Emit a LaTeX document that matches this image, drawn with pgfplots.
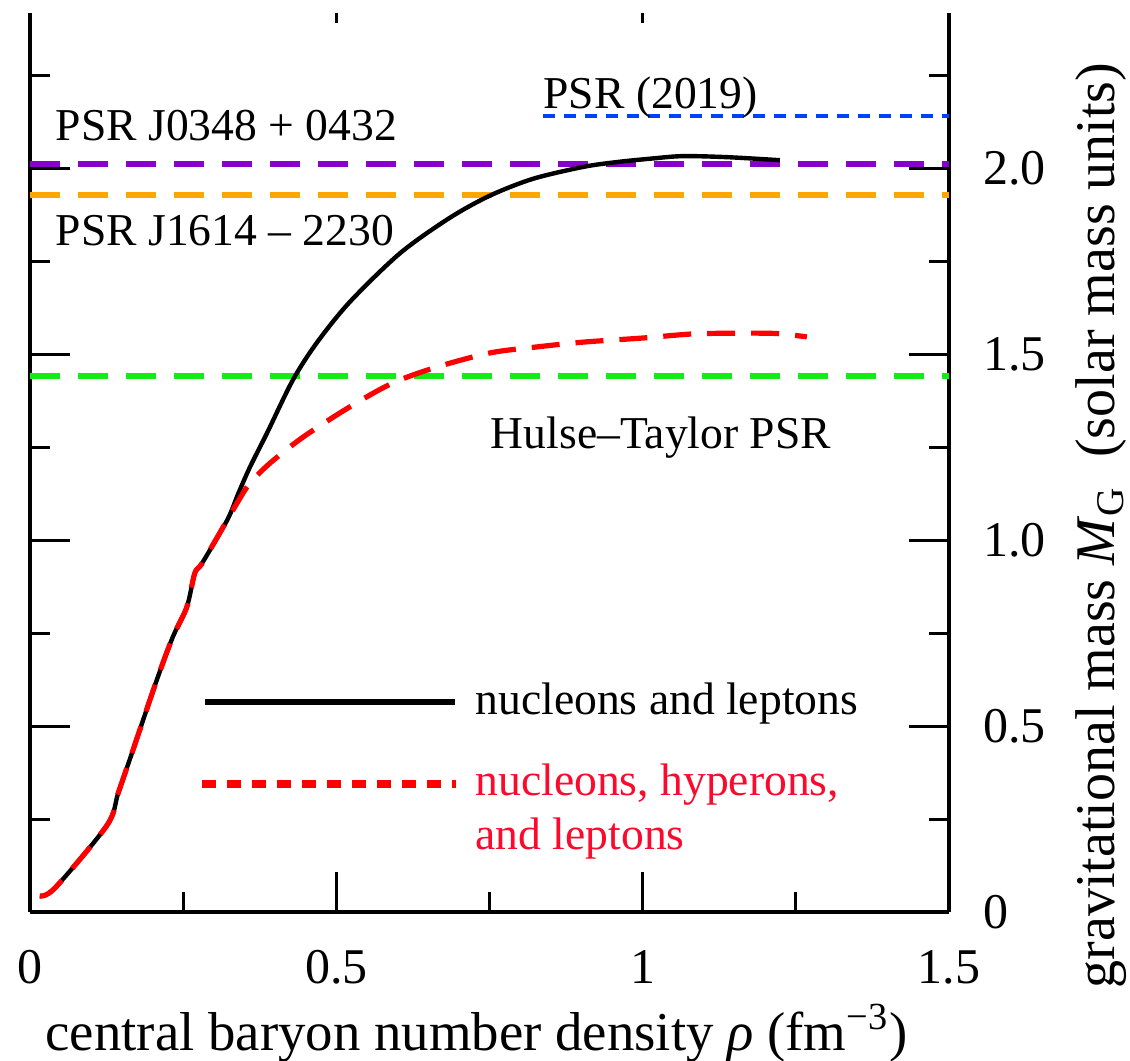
\documentclass[border=0pt]{standalone}
\usepackage{pgfplots}
\pgfplotsset{compat=1.18}
\usepackage{fontspec}
\setmainfont{Liberation Serif}

\definecolor{psrpurple}{RGB}{136,0,204}
\definecolor{psrorange}{RGB}{255,165,0}
\definecolor{psrgreen}{RGB}{20,235,20}
\definecolor{psrblue}{RGB}{0,64,255}
\definecolor{curvered}{RGB}{255,0,0}
\definecolor{labelred}{RGB}{250,10,45}

\newcommand{\annfont}{\fontsize{11.4}{13.7}\selectfont}
\newcommand{\axfont}{\fontsize{12.5}{15}\selectfont}
\newcommand{\xlabfont}{\fontsize{13.7}{16}\selectfont}
\newcommand{\ylabfont}{\fontsize{14}{17}\selectfont}

% mass--central density relation, nucleons and leptons only
\pgfplotstableread{
rho M
0.016 0.043
0.041 0.065
0.126 0.234
0.144 0.320
0.168 0.435
0.207 0.624
0.233 0.739
0.256 0.820
0.269 0.911
0.281 0.938
0.322 1.054
0.340 1.125
0.359 1.196
0.387 1.288
0.429 1.430
0.468 1.530
0.522 1.640
0.604 1.771
0.685 1.866
0.751 1.926
0.821 1.971
0.903 2.003
0.958 2.016
1.012 2.025
1.066 2.032
1.140 2.029
1.224 2.021
}\nucleons

% same with hyperons included
\pgfplotstableread{
rho M
0.016 0.043
0.041 0.065
0.126 0.234
0.144 0.320
0.168 0.435
0.207 0.624
0.233 0.739
0.256 0.820
0.269 0.911
0.281 0.938
0.322 1.054
0.340 1.105
0.359 1.153
0.392 1.207
0.446 1.277
0.522 1.358
0.592 1.422
0.664 1.465
0.751 1.503
0.827 1.519
0.903 1.532
1.000 1.543
1.082 1.554
1.162 1.556
1.220 1.555
1.268 1.546
}\hyperons

\begin{document}
\begin{tikzpicture}
\begin{axis}[
  scale only axis,
  width=229.75pt, height=224.75pt,
  xmin=0, xmax=1.5, ymin=0, ymax=2.4167,
  clip=false,
  axis x line*=bottom, axis y line*=box,
  axis line style={line width=1pt, black, -},
  every outer x axis line/.append style={-},
  every outer y axis line/.append style={-},
  tick align=inside,
  major tick length=10pt, minor tick length=5pt,
  tick style={line width=0.75pt, black},
  xtick={0,0.5,1,1.5}, xticklabels={0,0.5,1,1.5},
  minor xtick={0.25,0.75,1.25},
  ytick={0,0.5,1,1.5,2}, yticklabels={0,0.5,1.0,1.5,2.0},
  minor ytick={0.25,0.75,1.25,1.75,2.25},
  ytick pos=both, yticklabel pos=right,
  /pgf/number format/assume math mode=true,
  xticklabel style={font=\axfont, yshift=-6pt},
  yticklabel style={font=\axfont, xshift=5pt},
  xlabel={central baryon number density \textit{ρ} (fm\textsuperscript{−3})},
  xlabel style={font=\xlabfont, at={(rel axis cs:0.486,0)}, anchor=base, yshift=-34.5pt},
]
  % observed pulsar masses
  \addplot[psrpurple, line width=1.5pt, dash pattern=on 7.5pt off 4.5pt, forget plot]
    coordinates {(0,2.01) (1.5,2.01)};
  \addplot[psrorange, line width=1.5pt, dash pattern=on 7.5pt off 4.5pt, forget plot]
    coordinates {(0,1.928) (1.5,1.928)};
  \addplot[psrgreen, line width=1.5pt, dash pattern=on 7.5pt off 4.5pt, forget plot]
    coordinates {(0,1.44) (1.5,1.44)};
  \addplot[psrblue, line width=1.1pt, dash pattern=on 3pt off 2.25pt, forget plot]
    coordinates {(0.837,2.14) (1.5,2.14)};

  % model curves
  \addplot[black, line width=1.1pt, smooth, tension=0.5] table[x=rho, y=M] {\nucleons};
  \addplot[curvered, line width=1.3pt, dash pattern=on 7pt off 4pt, smooth, tension=0.5] table[x=rho, y=M] {\hyperons};

  % key
  \addplot[black, line width=1.6pt, forget plot] coordinates {(0.286,0.565) (0.694,0.565)};
  \addplot[curvered, line width=1.8pt, dash pattern=on 3.5pt off 2.75pt, forget plot]
    coordinates {(0.281,0.344) (0.695,0.344)};
  \node[anchor=base west, font=\annfont, inner sep=0pt] at (axis cs:0.726,0.532) {nucleons and leptons};
  \node[anchor=base west, font=\annfont, inner sep=0pt, text=labelred] at (axis cs:0.726,0.312) {nucleons, hyperons,};
  \node[anchor=base west, font=\annfont, inner sep=0pt, text=labelred] at (axis cs:0.726,0.169) {and leptons};

  % pulsar names
  \node[anchor=base west, font=\annfont, inner sep=0pt] at (axis cs:0.041,2.075) {PSR J0348 + 0432};
  \node[anchor=base west, font=\annfont, inner sep=0pt] at (axis cs:0.041,1.793) {PSR J1614 – 2230};
  \node[anchor=base west, font=\annfont, inner sep=0pt] at (axis cs:0.837,2.161) {PSR (2019)};
  \node[anchor=base west, font=\annfont, inner sep=0pt] at (axis cs:0.751,1.247) {Hulse–Taylor PSR};

  % vertical axis title, set beside the right-hand scale
  \node[rotate=90, anchor=center, font=\ylabfont, inner sep=0pt]
    at ([xshift=38pt]rel axis cs:1,0.43) {gravitational mass \textit{M}\textsubscript{G}\ \ (solar mass units)};

  \coordinate (bl) at (rel axis cs:0,0);
  \coordinate (tr) at (rel axis cs:1,1);
\end{axis}
% short ticks along the upper edge
\begin{axis}[
  scale only axis,
  width=229.75pt, height=224.75pt,
  xmin=0, xmax=1.5, ymin=0, ymax=2.4167,
  axis x line*=top, axis y line=none,
  x axis line style={draw=none},
  xtick={0.5,1}, xticklabels={}, minor xtick={},
  tick align=inside, major tick length=2.5pt,
  tick style={line width=0.75pt, black},
]
\end{axis}
\pgfresetboundingbox
\path[use as bounding box] ([shift={(-7.5pt,-37pt)}]bl) rectangle ([shift={(45.25pt,3.25pt)}]tr);
\end{tikzpicture}
\end{document}
